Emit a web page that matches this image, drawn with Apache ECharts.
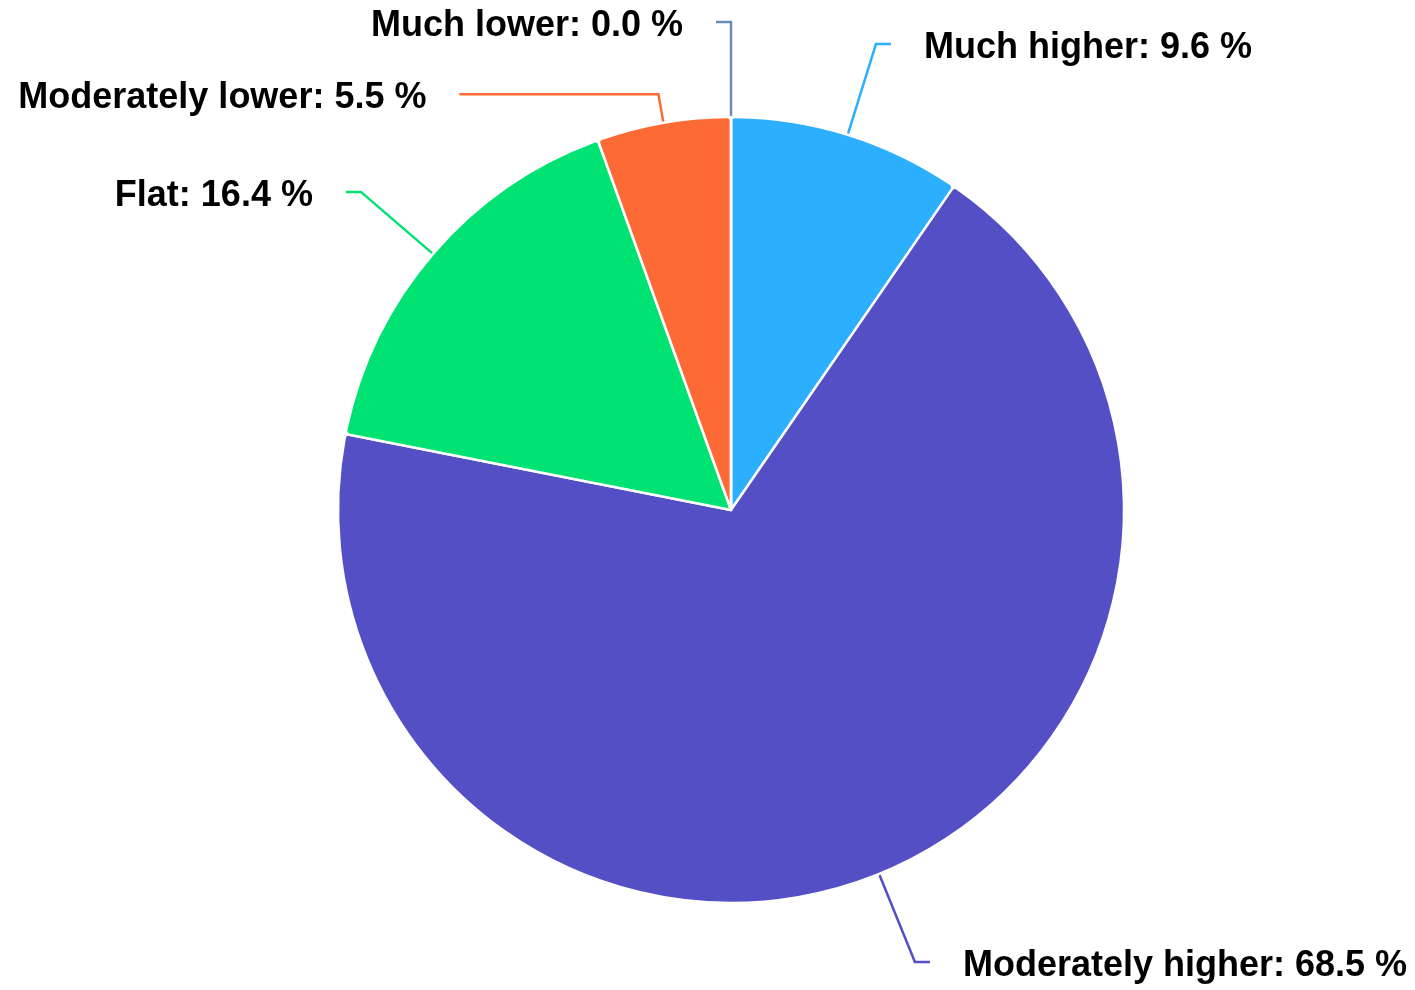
<!DOCTYPE html>
<html>
<head>
<meta charset="utf-8">
<script src="https://cdn.jsdelivr.net/npm/echarts@6/dist/echarts.min.js"></script>
<style>
html,body{margin:0;padding:0;background:#fff;}
#chart{width:1415px;height:990px;}
</style>
</head>
<body>
<div id="chart"></div>
<script>
const categories = ['Much higher', 'Moderately higher', 'Flat', 'Moderately lower', 'Much lower'];
const shares = [9.6, 68.5, 16.4, 5.5, 0.0];
const colors = ['#2caffe', '#544fc5', '#00e272', '#fe6a35', '#6b8abc'];

const chart = echarts.init(document.getElementById('chart'), null, {renderer: 'canvas'});
chart.setOption({
  backgroundColor: '#ffffff',
  animation: false,
  series: [{
    type: 'pie',
    center: [731, 510],
    radius: 393,
    startAngle: 90,
    clockwise: true,
    percentPrecision: 1,
    avoidLabelOverlap: false,
    data: categories.map((c, i) => {
      const item = {
        name: c,
        value: shares[i],
        itemStyle: {color: colors[i]},
        labelLine: {lineStyle: {color: colors[i]}}
      };
      if (c === 'Moderately lower') {
        item.labelLine.length = 29;
        item.labelLine.length2 = 199;
      }
      return item;
    }),
    itemStyle: {borderColor: '#ffffff', borderWidth: 2.5, borderRadius: 4},
    label: {
      show: true,
      formatter: p => p.name + ': ' + p.percent.toFixed(1) + ' %',
      fontFamily: '"Liberation Sans", Arial, sans-serif',
      fontWeight: 'bold',
      fontSize: 36,
      color: '#000000',
      offset: [0, 4],
      distanceToLabelLine: 33
    },
    labelLine: {
      show: true,
      length: 95,
      length2: 15,
      smooth: false,
      lineStyle: {width: 2.5}
    },
    emphasis: {disabled: true}
  }]
});
</script>
</body>
</html>
